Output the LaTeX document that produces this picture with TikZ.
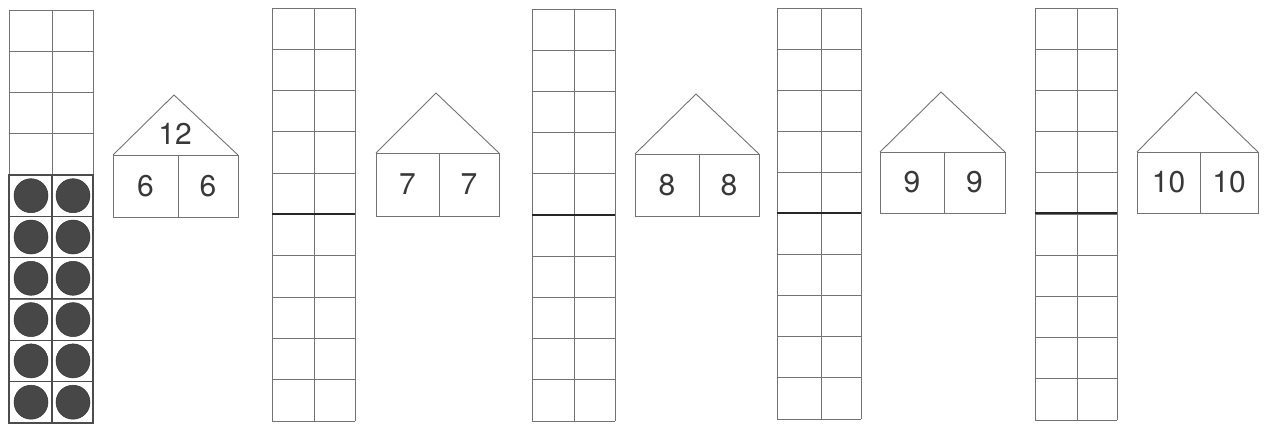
\documentclass[tikz,border=0pt]{standalone}
\usepackage{fontspec}
\setmainfont{TeX Gyre Heros}
\begin{document}
\begin{tikzpicture}[x=1pt,y=-1pt,
  gridline/.style={draw=black!55, line width=0.9pt},
  dotgrid/.style={draw=black!70, line width=1.1pt},
  midline/.style={draw=black!85, line width=2.2pt},
  houseline/.style={draw=black!55, line width=0.9pt, line join=miter},
  num/.style={font=\fontsize{30}{32}\selectfont, text=black!78, inner sep=0pt},
  counter/.style={fill=black!72, draw=black!80, line width=0.5pt}]
\useasboundingbox (0,0) rectangle (1268,425);
\fill[white] (0,0) rectangle (1268,425);

% ---------- grids (2 x 10) ----------
\foreach \xl/\xm/\xr/\yt/\yb/\thick/\ym in {9/52/93/10/423/0/216, 272/314/355/8/421/1/214, 532/574/615/9/421/1/215, 777/821/861/8/419/1/213, 1035/1077/1117/8/420/1/213}{
  \foreach \i in {0,...,10}{
    \draw[gridline] (\xl,{\yt+(\yb-\yt)*\i/10}) -- (\xr,{\yt+(\yb-\yt)*\i/10});
  }
  \draw[gridline] (\xl,\yt) -- (\xl,\yb);
  \draw[gridline] (\xm,\yt) -- (\xm,\yb);
  \draw[gridline] (\xr,\yt) -- (\xr,\yb);
  \ifnum\thick=1
    \draw[midline] (\xl,\ym) -- (\xr,\ym);
  \fi
}

% ---------- counters in first grid ----------
\draw[dotgrid] (9,175) rectangle (93,423);
\foreach \i in {1,...,5}{ \draw[dotgrid] (9,{175+41.3*\i}) -- (93,{175+41.3*\i}); }
\draw[dotgrid] (52,175) -- (52,423);
\foreach \i in {0,...,5}{
  \fill[counter] (31,{195.7+41.3*\i}) circle (17);
  \fill[counter] (73,{195.7+41.3*\i}) circle (17);
}

% ---------- houses ----------
\foreach \n/\xl/\xr/\xa/\ya/\yr/\yb/\xd/\top/\lft/\rgt in {
  1/113/238/174/95/155/217/178/12/6/6,
  2/376/499/436/93/153/216/439//7/7,
  3/635/759/696/94/154/216/699//8/8,
  4/880/1005/941/92/152/213/944//9/9,
  5/1137/1258/1196/92/152/213/1200//10/10}{
  \draw[houseline] (\xl,\yr) -- (\xa,\ya) -- (\xr,\yr);
  \draw[houseline] (\xl,\yr) rectangle (\xr,\yb);
  \draw[houseline] (\xd,\yr) -- (\xd,\yb);
  \node[num] (roof\n) at ({\xa+1},{\yr-21}) {\top};
  \node[num] (left\n) at ({(\xl+\xd)/2},{(\yr+\yb)/2}) {\lft};
  \node[num] (right\n) at ({(\xd+\xr)/2},{(\yr+\yb)/2}) {\rgt};
}
\end{tikzpicture}
\end{document}
